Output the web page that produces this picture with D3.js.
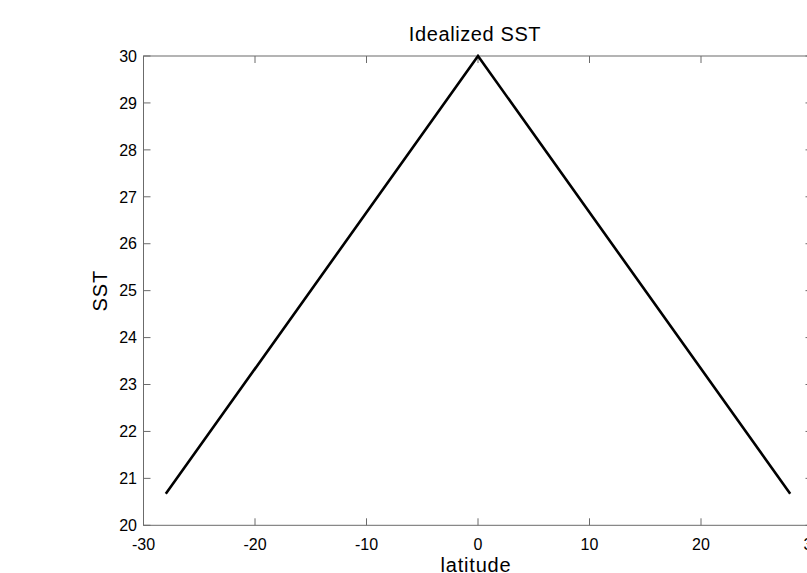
<!DOCTYPE html>
<html>
<head>
<meta charset="utf-8">
<script src="https://cdn.jsdelivr.net/npm/d3@7"></script>
<style>
  body { margin: 0; background: #fff; }
  svg { display: block; font-family: "Liberation Sans", Arial, sans-serif; }
</style>
</head>
<body>
<svg width="807" height="573"></svg>
<script>
// idealized SST profile (degC) against latitude
var latitude = [-28, 0, 28];
var sst = [20.67, 30, 20.67];
var xTicks = [-30, -20, -10, 0, 10, 20, 30];
var yTicks = [20, 21, 22, 23, 24, 25, 26, 27, 28, 29, 30];

var svg = d3.select("svg");
var margin = {"top": 56, "left": 143.5, "right": 812.5, "bottom": 525.3};

var x = d3.scaleLinear().domain([-30, 30]).range([margin.left, margin.right]),
    y = d3.scaleLinear().domain([20, 30]).range([margin.bottom, margin.top]);

var axisColor = "#6b6b6b";

// box
svg.append("rect")
    .attr("x", margin.left).attr("y", margin.top)
    .attr("width", margin.right - margin.left)
    .attr("height", margin.bottom - margin.top)
    .attr("fill", "none").attr("stroke", axisColor).attr("stroke-width", 1);

// ticks (inward, on all four sides)
var tl = 7;
xTicks.forEach(function(t) {
  svg.append("line").attr("x1", x(t)).attr("x2", x(t))
      .attr("y1", margin.bottom).attr("y2", margin.bottom - tl)
      .attr("stroke", axisColor);
  svg.append("line").attr("x1", x(t)).attr("x2", x(t))
      .attr("y1", margin.top).attr("y2", margin.top + tl)
      .attr("stroke", axisColor);
  svg.append("text")
      .attr("x", x(t)).attr("y", 550)
      .attr("text-anchor", "middle")
      .style("font-size", "16px")
      .text(t);
});

yTicks.forEach(function(t) {
  svg.append("line").attr("x1", margin.left).attr("x2", margin.left + tl)
      .attr("y1", y(t)).attr("y2", y(t))
      .attr("stroke", axisColor);
  svg.append("line").attr("x1", margin.right).attr("x2", margin.right - tl)
      .attr("y1", y(t)).attr("y2", y(t))
      .attr("stroke", axisColor);
  svg.append("text")
      .attr("x", margin.left - 6.5).attr("y", y(t))
      .attr("dy", "0.36em")
      .attr("text-anchor", "end")
      .style("font-size", "16px")
      .text(t);
});

// the line
var pts = latitude.map(function(d, i) { return [d, sst[i]]; });
svg.append("path")
    .datum(pts)
    .attr("fill", "none")
    .attr("stroke", "#000")
    .attr("stroke-width", 2.6)
    .attr("d", d3.line().x(function(d) { return x(d[0]); }).y(function(d) { return y(d[1]); }));

// labels
svg.append("text")
    .attr("x", 475).attr("y", 41)
    .attr("text-anchor", "middle")
    .style("font-size", "20px")
    .style("letter-spacing", "0.6px")
    .text("Idealized SST");

svg.append("text")
    .attr("x", 476).attr("y", 572)
    .attr("text-anchor", "middle")
    .style("font-size", "20px")
    .style("letter-spacing", "0.8px")
    .text("latitude");

svg.append("text")
    .attr("transform", "translate(107," + ((margin.top + margin.bottom) / 2) + ") rotate(-90)")
    .attr("text-anchor", "middle")
    .style("font-size", "20px")
    .style("letter-spacing", "1px")
    .text("SST");
</script>
</body>
</html>
